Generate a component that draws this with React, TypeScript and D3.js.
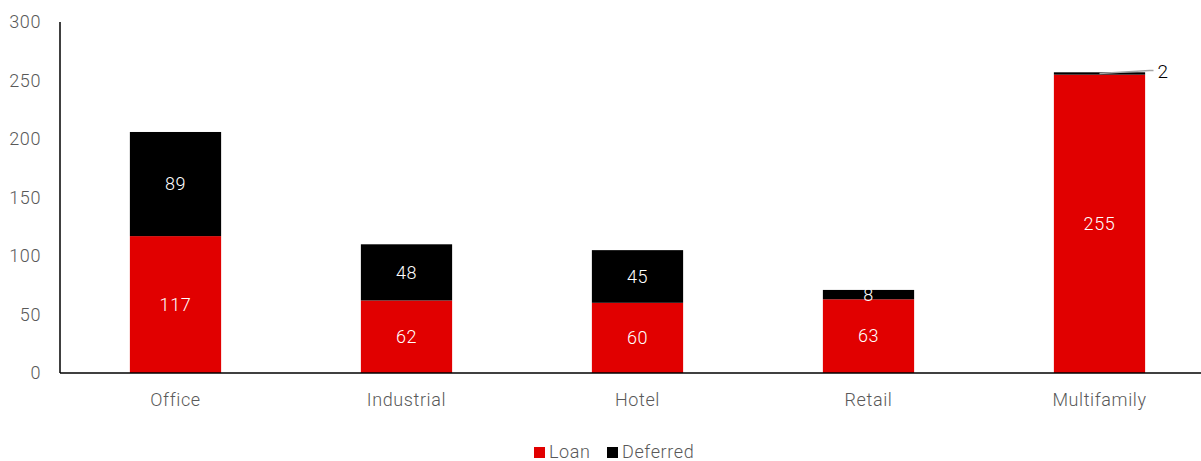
import React from "react";
import * as d3 from "d3";

const categories = ["Office", "Industrial", "Hotel", "Retail", "Multifamily"];
const loan = [117, 62, 60, 63, 255];
const deferred = [89, 48, 45, 8, 2];
const yTicks = [0, 50, 100, 150, 200, 250, 300];
const seriesNames = ["Loan", "Deferred"];
const seriesColors = ["#e10000", "#000000"];

const W = 1201;
const H = 461;
const FONT = "Roboto, 'Liberation Sans', sans-serif";
const TXT = "#595959";
const FS = 18;
const LS = 0.6;

export default function App() {
  const x = d3.scaleBand<string>().domain(categories).range([60, 1215]).paddingInner(0.605).paddingOuter(0.3025);
  const y = d3.scaleLinear().domain([0, 300]).range([373, 22]);
  const stackData = categories.map((c, i) => ({ cat: c, Loan: loan[i], Deferred: deferred[i] }));
  const stacked = d3.stack<any>().keys(seriesNames)(stackData);
  const bw = x.bandwidth();

  return (
    <svg width={W} height={H} style={{ position: "absolute", left: 0, top: 0 }} fontFamily={FONT}>
      <rect width={W} height={H} fill="#fff" />
      {yTicks.map((t) => (
        <text key={t} x={41} y={y(t)} dy="0.35em" textAnchor="end" fontSize={FS} fontWeight={300} letterSpacing={LS} fill={TXT}>
          {t}
        </text>
      ))}
      {stacked.map((s, si) =>
        s.map((d, i) => (
          <rect
            key={si + "-" + i}
            x={x(categories[i])!}
            y={y(d[1])}
            width={bw}
            height={y(d[0]) - y(d[1])}
            fill={seriesColors[si]}
          />
        ))
      )}
      <line x1={60} x2={60} y1={22} y2={373} stroke="#000" strokeWidth={1.5} />
      <line x1={60} x2={1201} y1={373} y2={373} stroke="#000" strokeWidth={1.5} />
      {categories.map((c, i) => (
        <text key={c} x={x(c)! + bw / 2} y={400} dy="0.35em" textAnchor="middle" fontSize={FS} fontWeight={300} letterSpacing={LS} fill={TXT}>
          {c}
        </text>
      ))}
      {stacked.map((s, si) =>
        s.map((d, i) => {
          const v = si === 0 ? loan[i] : deferred[i];
          const cx = x(categories[i])! + bw / 2;
          if (si === 1 && categories[i] === "Multifamily") {
            const ly = y((d[0] + d[1]) / 2);
            return (
              <g key={"l" + si + i}>
                <polyline
                  points={`${cx},${ly} ${cx + 50},${ly - 3} ${cx + 54},${ly - 3}`}
                  fill="none"
                  stroke="#a6a6a6"
                  strokeWidth={1.5}
                />
                <text x={cx + 58} y={ly - 2} dy="0.35em" fontSize={19} fontWeight={300} fill="#000">
                  {v}
                </text>
              </g>
            );
          }
          return (
            <text
              key={"l" + si + i}
              x={cx}
              y={y((d[0] + d[1]) / 2)}
              dy="0.35em"
              textAnchor="middle"
              fontSize={FS}
              fontWeight={300}
              letterSpacing={LS}
              fill="#fff"
            >
              {v}
            </text>
          );
        })
      )}
      {seriesNames.map((n, i) => {
        const lx = i === 0 ? 534 : 607;
        return (
          <g key={n}>
            <rect x={lx} y={447} width={11} height={11} fill={seriesColors[i]} />
            <text x={lx + 15} y={452} dy="0.35em" fontSize={FS} fontWeight={300} letterSpacing={LS} fill={TXT}>
              {n}
            </text>
          </g>
        );
      })}
    </svg>
  );
}
